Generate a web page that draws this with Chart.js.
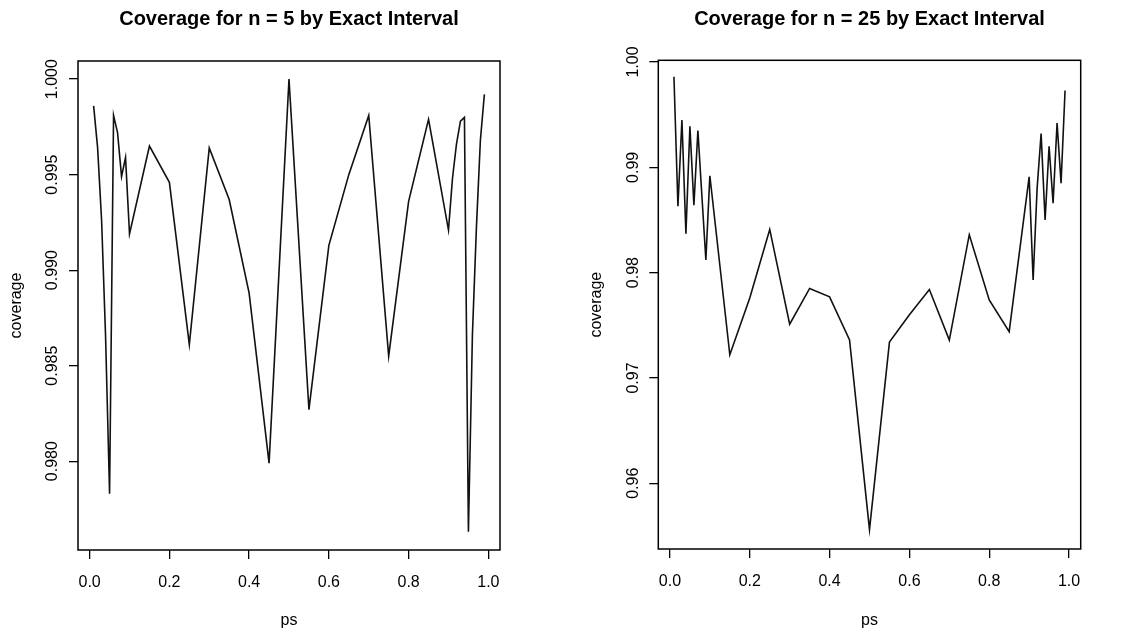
<!DOCTYPE html>
<html>
<head>
<meta charset="utf-8">
<script src="https://cdn.jsdelivr.net/npm/chart.js@4.4.0/dist/chart.umd.min.js"></script>
<style>
  body { margin: 0; background: #fff; }
  .panel { position: absolute; top: 0; width: 565px; height: 637px; }
</style>
</head>
<body>
<div class="panel" style="left:0"><canvas id="chartN5" width="565" height="637"></canvas></div>
<div class="panel" style="left:565px"><canvas id="chartN25" width="565" height="637"></canvas></div>
<script>
// p values used in both plots
const ps = [0.01, 0.02, 0.03, 0.04, 0.05, 0.06, 0.07, 0.08, 0.09, 0.10,
  0.15, 0.20, 0.25, 0.30, 0.35, 0.40, 0.45, 0.50, 0.55, 0.60, 0.65, 0.70, 0.75, 0.80, 0.85,
  0.90, 0.91, 0.92, 0.93, 0.94, 0.95, 0.96, 0.97, 0.98, 0.99]

const coverageN5 = [0.9986, 0.9964, 0.9926, 0.9865, 0.9783, 0.9981, 0.9972, 0.9949, 0.9959, 0.9919,
  0.9965, 0.9946, 0.9861, 0.9964, 0.9937, 0.9888, 0.9799, 1.0000, 0.9827, 0.9913, 0.9950, 0.9981, 0.9855, 0.9936, 0.9979,
  0.9921, 0.9948, 0.9966, 0.9978, 0.9980, 0.9763, 0.9866, 0.9922, 0.9968, 0.9992]

const coverageN25 = [0.9986, 0.9863, 0.9945, 0.9837, 0.9939, 0.9864, 0.9935, 0.9873, 0.9812, 0.9892,
  0.9722, 0.9776, 0.9841, 0.9751, 0.9785, 0.9777, 0.9736, 0.9556, 0.9734, 0.9760, 0.9784, 0.9736, 0.9836, 0.9774, 0.9744,
  0.9891, 0.9793, 0.9880, 0.9932, 0.9850, 0.9920, 0.9866, 0.9942, 0.9885, 0.9973]

// tick labels
const xTicks = [0.0, 0.2, 0.4, 0.6, 0.8, 1.0]
const yTicksN5 = [0.980, 0.985, 0.990, 0.995, 1.000]
const yTicksN25 = [0.96, 0.97, 0.98, 0.99, 1.00]

const fontFamily = '"Liberation Sans", Arial, Helvetica, sans-serif'

// draws the full box round the plot region, like R does
const boxPlugin = {
  id: 'box',
  afterDraw(chart) {
    const a = chart.chartArea
    const ctx = chart.ctx
    ctx.save()
    ctx.strokeStyle = '#000'
    ctx.lineWidth = 1.5
    ctx.strokeRect(a.left, a.top, a.right - a.left, a.bottom - a.top)
    ctx.restore()
  }
}

function makeChart(id, cov, title, yTicks, ySet) {
  const data = {
    datasets: [{
      data: ps.map((p, i) => ({ x: p, y: cov[i] })),
      borderColor: '#111',
      borderWidth: 1.6,
      pointRadius: 0,
      tension: 0,
      fill: false
    }]
  }

  const config = {
    type: 'line',
    data,
    plugins: [boxPlugin],
    options: {
      responsive: false,
      animation: false,
      devicePixelRatio: 1,
      layout: { padding: { left: 0, right: ySet.rightPad, top: 0, bottom: 0 } },
      plugins: {
        legend: { display: false },
        tooltip: { enabled: false },
        title: {
          display: true,
          text: title,
          fullSize: false,
          color: '#000',
          font: { family: fontFamily, size: 20, weight: 'bold' },
          padding: { top: 7.6, bottom: ySet.titleBottom }
        }
      },
      scales: {
        x: {
          type: 'linear',
          min: -0.0292,
          max: 1.0292,
          afterBuildTicks: s => { s.ticks = xTicks.map(v => ({ value: v })) },
          afterFit: s => { s.height = ySet.xHeight },
          border: { display: false },
          grid: { drawOnChartArea: false, drawTicks: true, tickLength: 9, color: '#000', lineWidth: 1.3 },
          ticks: {
            color: '#000',
            padding: 14,
            maxRotation: 0,
            font: { family: fontFamily, size: 16 },
            callback: v => v.toFixed(1)
          },
          title: {
            display: true,
            text: 'ps',
            color: '#000',
            font: { family: fontFamily, size: 16 },
            padding: { top: 0, bottom: 6.4 }
          }
        },
        y: {
          type: 'linear',
          min: ySet.min,
          max: ySet.max,
          afterBuildTicks: s => { s.ticks = yTicks.map(v => ({ value: v })) },
          afterFit: s => { s.width = ySet.yWidth },
          border: { display: false },
          grid: { drawOnChartArea: false, drawTicks: true, tickLength: 9, color: '#000', lineWidth: 1.3 },
          ticks: {
            color: '#000',
            minRotation: 90,
            maxRotation: 90,
            crossAlign: 'center',
            padding: ySet.tickPad,
            font: { family: fontFamily, size: 16 },
            callback: v => v.toFixed(ySet.digits)
          },
          title: {
            display: true,
            text: 'coverage',
            color: '#000',
            font: { family: fontFamily, size: 16 },
            padding: { top: ySet.titlePad, bottom: 0 }
          }
        }
      }
    }
  }

  return new Chart(document.getElementById(id), config)
}

let chartN5 = makeChart('chartN5', coverageN5, 'Coverage for n = 5 by Exact Interval', yTicksN5,
  { min: 0.97535, max: 1.00095, digits: 3, yWidth: 78, xHeight: 87, rightPad: 65, titleBottom: 29.4, tickPad: -4, titlePad: 7.4 })

let chartN25 = makeChart('chartN25', coverageN25, 'Coverage for n = 25 by Exact Interval', yTicksN25,
  { min: 0.95376, max: 1.00016, digits: 2, yWidth: 93.3, xHeight: 88, rightPad: 49.3, titleBottom: 28.7, tickPad: 0.5, titlePad: 22 })
</script>
</body>
</html>
